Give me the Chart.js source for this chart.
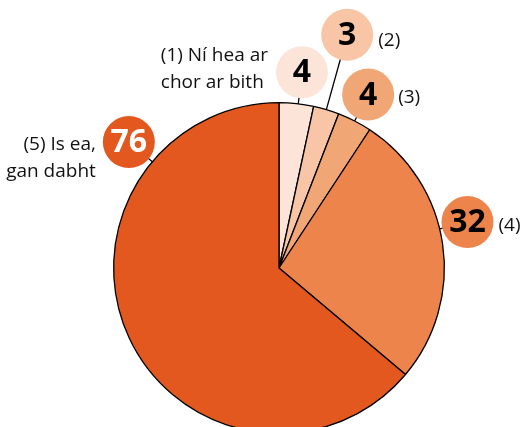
<!DOCTYPE html>
<html>
<head>
<meta charset="utf-8">
<script src="https://cdn.jsdelivr.net/npm/chart.js@4"></script>
<style>
  html, body { margin: 0; padding: 0; background: #fff; overflow: hidden; }
  #wrap { width: 523px; height: 440px; }
</style>
</head>
<body>
<div id="wrap"><canvas id="c"></canvas></div>
<script>
const categories = ['(1) Ní hea ar\nchor ar bith', '(2)', '(3)', '(4)', '(5) Is ea,\ngan dabht'];
const values = [4, 3, 4, 32, 76];
const colors = ['#fce5d8', '#f8c6a6', '#f1a676', '#ec844c', '#e2581e'];
const numColors = ['#000', '#000', '#000', '#000', '#fff'];

// label placement: angle from top (deg), distance from centre, text side, text offsets
const place = [
  { ang: 6.7, dist: 197, side: 'left', dx: -34, dy: -3, lead: 'bubble' },
  { ang: 16.3, dist: 243, side: 'right', dx: 31, dy: 6, lead: 'slice' },
  { ang: 27.2, dist: 195, side: 'right', dx: 30, dy: 3, lead: 'slice' },
  { ang: 76.3, dist: 194, side: 'right', dx: 31, dy: 4, lead: 'bubble' },
  { ang: 310, dist: 196, side: 'left', dx: -33, dy: 16, lead: 'bubble' }
];

const labelPlugin = {
  id: 'bubbles',
  afterDatasetsDraw(chart) {
    const ctx = chart.ctx;
    const meta = chart.getDatasetMeta(0);
    meta.data.forEach((arc, i) => {
      const p = place[i];
      const mid = (arc.startAngle + arc.endAngle) / 2;
      const a = p.ang * Math.PI / 180 - Math.PI / 2;
      const cx = arc.x + Math.cos(a) * p.dist;
      const cy = arc.y + Math.sin(a) * p.dist;
      const ea = p.lead === 'bubble' ? a : mid;
      ctx.save();
      ctx.strokeStyle = '#000';
      ctx.lineWidth = 1.3;
      ctx.beginPath();
      ctx.moveTo(arc.x + Math.cos(ea) * arc.outerRadius, arc.y + Math.sin(ea) * arc.outerRadius);
      ctx.lineTo(cx, cy);
      ctx.stroke();
      ctx.fillStyle = colors[i];
      ctx.beginPath();
      ctx.arc(cx, cy, 26, 0, Math.PI * 2);
      ctx.fill();
      ctx.fillStyle = numColors[i];
      ctx.font = 'bold 32px "Open Sans"';
      ctx.textAlign = 'center';
      ctx.textBaseline = 'middle';
      ctx.fillText(String(values[i]), cx, cy + 1);
      ctx.fillStyle = '#111';
      ctx.font = '19px "Open Sans"';
      const lines = categories[i].split('\n');
      const lh = 27;
      const w = ctx.measureText(lines[0]).width;
      lines.forEach((ln, k) => {
        const y = cy + p.dy + (k - (lines.length - 1) / 2) * lh;
        if (i === 0) {
          ctx.textAlign = 'left';
          ctx.fillText(ln, cx + p.dx - w, y);
        } else {
          ctx.textAlign = p.side === 'left' ? 'right' : 'left';
          ctx.fillText(ln, cx + p.dx, y);
        }
      });
      ctx.restore();
    });
  }
};

new Chart(document.getElementById('c'), {
  type: 'pie',
  data: {
    labels: categories,
    datasets: [{
      data: values,
      backgroundColor: colors,
      borderColor: '#000',
      borderWidth: 1.3
    }]
  },
  options: {
    responsive: true,
    maintainAspectRatio: false,
    animation: false,
    layout: { padding: { left: 113, right: 78, top: 102, bottom: 6 } },
    plugins: { legend: { display: false }, tooltip: { enabled: false } }
  },
  plugins: [labelPlugin]
});
</script>
</body>
</html>
